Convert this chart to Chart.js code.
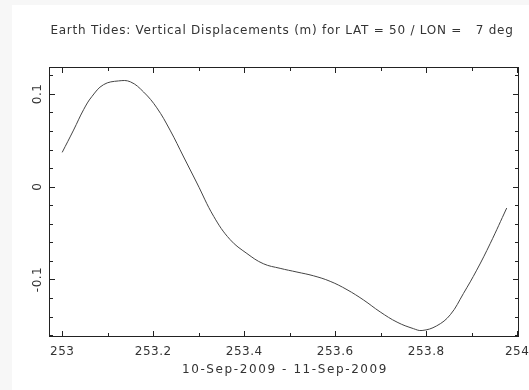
<!DOCTYPE html>
<html>
<head>
<meta charset="utf-8">
<title>Earth Tides</title>
<script src="https://cdn.jsdelivr.net/npm/chart.js@4.4.1/dist/chart.umd.min.js"></script>
<style>
    html, body { margin: 0; padding: 0; background: #f7f7f7; }
    #card { position: absolute; left: 12px; top: 5px; width: 517px; height: 385px; background: #fff; }
    #wrap { position: absolute; left: 0; top: 0; width: 529px; height: 390px; }
</style>
</head>
<body>
<div id="card"></div>
<div id="wrap"><canvas id="tideChart" width="529" height="390"></canvas></div>
<script>
// Donnees (jour de l'annee, deplacement vertical en m)
const dayOfYear = [253.0, 253.025, 253.047, 253.065, 253.091, 253.124, 253.15, 253.179, 253.208, 253.237,
    253.267, 253.296, 253.333, 253.369, 253.406, 253.442, 253.479, 253.516, 253.552, 253.589,
    253.626, 253.662, 253.699, 253.736, 253.772, 253.791, 253.823, 253.853, 253.882, 253.911,
    253.941, 253.977];
const displacement = [0.037, 0.061, 0.083, 0.097, 0.110, 0.114, 0.113, 0.102, 0.085, 0.061,
    0.032, 0.004, -0.032, -0.057, -0.072, -0.083, -0.088, -0.092, -0.096, -0.102,
    -0.111, -0.122, -0.135, -0.146, -0.153, -0.155, -0.150, -0.138, -0.115, -0.090,
    -0.061, -0.023];

// Graduations
const xMajorTicks = [253, 253.2, 253.4, 253.6, 253.8, 254];
const xTickLabels = ['253', '253.2', '253.4', '253.6', '253.8', '254'];
const xMinorTicks = [253.1, 253.3, 253.5, 253.7, 253.9];
const yMajorTicks = [-0.1, 0, 0.1];
const yTickLabels = ['-0.1', '0', '0.1'];
const yMinorTicks = [-0.16, -0.14, -0.12, -0.08, -0.06, -0.04, -0.02, 0.02, 0.04, 0.06, 0.08, 0.12];

const chartTitle = 'Earth Tides: Vertical Displacements (m) for LAT = 50 / LON =   7 deg';
const xAxisTitle = '10-Sep-2009 - 11-Sep-2009';

const fontFamily = '"DejaVu Sans", sans-serif';
const inkColor = '#333';

// Cadre, graduations et textes dessines a partir des echelles
const framePlugin = {
    id: 'frame',
    afterDraw(chart) {
        const ctx = chart.ctx;
        const area = chart.chartArea;
        const xs = chart.scales.x;
        const ys = chart.scales.y;
        ctx.save();
        ctx.strokeStyle = '#222';
        ctx.lineWidth = 1;
        ctx.strokeRect(area.left + 0.5, area.top + 0.5, area.right - area.left - 1, area.bottom - area.top - 1);

        ctx.beginPath();
        function xTick(v, len) {
            const px = Math.round(xs.getPixelForValue(v)) + 0.5;
            ctx.moveTo(px, area.bottom);
            ctx.lineTo(px, area.bottom - len);
            ctx.moveTo(px, area.top);
            ctx.lineTo(px, area.top + len);
        }
        function yTick(v, len) {
            const py = Math.round(ys.getPixelForValue(v)) + 0.5;
            ctx.moveTo(area.left, py);
            ctx.lineTo(area.left + len, py);
            ctx.moveTo(area.right, py);
            ctx.lineTo(area.right - len, py);
        }
        xMajorTicks.forEach(v => xTick(v, 6));
        xMinorTicks.forEach(v => xTick(v, 4));
        yMajorTicks.forEach(v => yTick(v, 6));
        yMinorTicks.forEach(v => yTick(v, 4));
        ctx.stroke();

        ctx.fillStyle = inkColor;
        ctx.font = '12px ' + fontFamily;
        ctx.textAlign = 'center';
        ctx.textBaseline = 'alphabetic';
        ctx.letterSpacing = '0.75px';
        ctx.fillText(chartTitle, 282, 34);

        ctx.letterSpacing = '0.5px';
        xMajorTicks.forEach((v, i) => {
            ctx.fillText(xTickLabels[i], xs.getPixelForValue(v), 355);
        });
        ctx.letterSpacing = '1.6px';
        ctx.fillText(xAxisTitle, 285, 373);

        ctx.letterSpacing = '0.5px';
        yMajorTicks.forEach((v, i) => {
            ctx.save();
            ctx.translate(41, ys.getPixelForValue(v));
            ctx.rotate(-Math.PI / 2);
            ctx.fillText(yTickLabels[i], 0, 0);
            ctx.restore();
        });
        ctx.restore();
    }
};

const ctx = document.getElementById('tideChart').getContext('2d');
const tideChart = new Chart(ctx, {
    type: 'line',
    data: {
        labels: dayOfYear,
        datasets: [{
            label: 'Deplacement vertical',
            data: dayOfYear.map((d, i) => ({ x: d, y: displacement[i] })),
            borderColor: '#444',
            borderWidth: 1,
            pointRadius: 0,
            tension: 0.4,
            fill: false
        }]
    },
    options: {
        responsive: false,
        animation: false,
        layout: {
            padding: { left: 49, top: 67, right: 10, bottom: 53 }
        },
        scales: {
            x: { type: 'linear', min: 252.971, max: 254.004, display: false },
            y: { min: -0.162, max: 0.129, display: false }
        },
        plugins: {
            legend: { display: false },
            tooltip: { enabled: false }
        }
    },
    plugins: [framePlugin]
});
</script>
</body>
</html>
